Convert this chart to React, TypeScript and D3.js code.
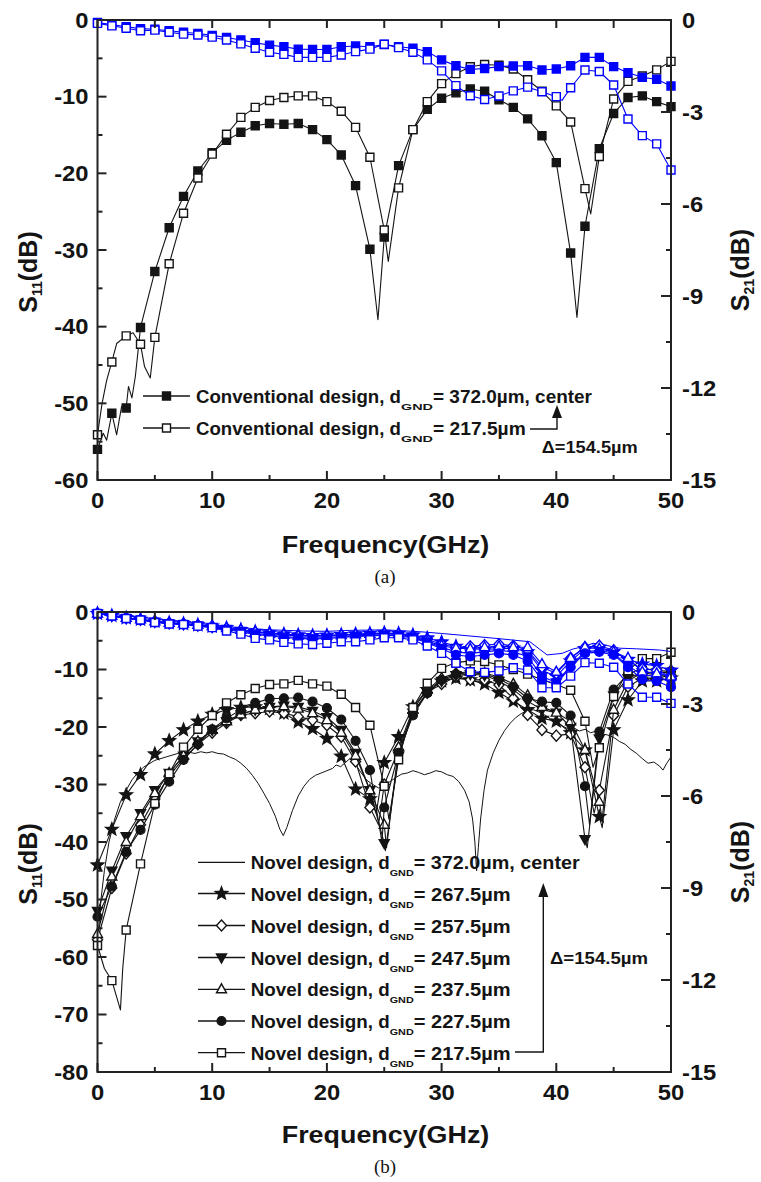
import React from 'react';
import * as d3 from 'd3';

type Pt = [number, number];

// ---------- shared frequency grid (marker positions, GHz) ----------
const FREQ = [0, 1.25, 2.5, 3.75, 5, 6.25, 7.5, 8.75, 10, 11.25, 12.5, 13.75, 15, 16.25, 17.5, 18.75, 20, 21.25, 22.5, 23.75, 25, 26.25, 27.5, 28.75, 30, 31.25, 32.5, 33.75, 35, 36.25, 37.5, 38.75, 40, 41.25, 42.5, 43.75, 45, 46.25, 47.5, 48.75, 50];

// ---------- panel (a): conventional design ----------
const A_S11_372 = [-56.0, -51.3, -50.6, -40.1, -32.8, -27.1, -23.0, -19.7, -17.3, -15.7, -14.65, -13.8, -13.5, -13.6, -13.5, -14.3, -15.6, -17.6, -21.6, -29.9, -28.3, -19.0, -14.3, -11.65, -10.2, -9.5, -9.0, -9.3, -10.4, -11.4, -12.9, -15.1, -18.6, -30.4, -26.9, -16.8, -12.2, -10.1, -9.9, -10.65, -11.3];
const A_S11_372_X: Pt[] = [[0.5, -53.9], [0.8, -54.8], [1.67, -54.1], [2.1, -50.4], [2.7, -47.8], [3.0, -49.3], [3.3, -46.5], [24.45, -39.1], [41.8, -38.8]];
const A_S11_217 = [-54.1, -44.6, -41.2, -42.3, -41.4, -31.8, -25.2, -20.6, -17.5, -14.9, -12.7, -11.4, -10.5, -10.1, -9.9, -9.9, -10.65, -11.9, -14.0, -17.9, -27.4, -21.9, -14.3, -10.65, -8.3, -7.0, -6.1, -5.8, -5.9, -6.4, -7.8, -9.3, -11.2, -13.3, -22.0, -17.8, -10.3, -8.0, -7.3, -6.5, -5.4];
const A_S11_217_X: Pt[] = [[0.4, -50], [0.8, -47], [1.67, -42.2], [3.1, -40.8], [4.1, -45.2], [4.6, -46.7], [25.35, -31.5], [43.0, -25.3]];
const A_S21_372 = [-0.08, -0.15, -0.22, -0.28, -0.3, -0.35, -0.4, -0.44, -0.5, -0.57, -0.65, -0.74, -0.82, -0.87, -0.95, -0.96, -0.96, -0.87, -0.85, -0.87, -0.80, -0.87, -0.92, -1.03, -1.30, -1.49, -1.61, -1.58, -1.52, -1.50, -1.49, -1.63, -1.60, -1.49, -1.22, -1.22, -1.52, -1.72, -1.87, -1.93, -2.15];
const A_S21_217 = [-0.11, -0.19, -0.27, -0.35, -0.33, -0.40, -0.46, -0.49, -0.56, -0.65, -0.78, -0.92, -1.05, -1.12, -1.22, -1.22, -1.22, -1.14, -1.03, -0.95, -0.79, -0.90, -1.05, -1.30, -1.66, -2.14, -2.47, -2.59, -2.48, -2.31, -2.19, -2.34, -2.50, -2.21, -1.63, -1.68, -2.12, -3.23, -3.77, -4.04, -4.89];
const A_S21_217_X: Pt[] = [[40.5, -2.62]];
const A_LEGEND = ['372.0\u00b5m, center', '217.5\u00b5m'];

// ---------- panel (b): novel design ----------
const B_S11_CENTER: Pt[] = [[0, -58], [0.3, -50], [0.6, -45], [1, -40], [1.5, -36], [2, -33], [2.5, -31], [3, -29.2], [3.5, -28], [4, -27], [5, -25.8], [6, -25.2], [7, -24.6], [7.5, -24.9], [8, -24.4], [8.5, -24.6], [9, -24.3], [9.5, -24.5], [10, -24.3], [10.5, -24.6], [11, -24.7], [11.5, -25.2], [12, -25.6], [12.5, -26.3], [13, -27.2], [13.5, -28.4], [14, -29.8], [14.5, -31.5], [15, -33.3], [15.5, -35.5], [15.9, -37.8], [16.2, -38.9], [16.5, -37.5], [17, -34.5], [17.5, -32], [18, -30.3], [18.5, -29.1], [19, -28.4], [19.5, -28], [20, -27.6], [20.5, -27.2], [20.8, -26.6], [21.2, -26.9], [21.6, -26.2], [22, -25.5], [22.5, -26.5], [23, -28], [23.5, -29.3], [24, -30], [24.5, -30.6], [25, -30.2], [25.5, -29.5], [26, -28.8], [26.5, -28.2], [27, -28], [27.5, -27.6], [28, -27.9], [28.5, -28.3], [29, -28], [29.5, -27.6], [30, -27.8], [30.5, -28.3], [31, -28.6], [31.5, -29.5], [32, -31], [32.4, -33], [32.7, -36], [32.9, -40], [33.05, -45], [33.2, -41], [33.4, -36], [33.7, -31], [34, -27.5], [34.5, -24.5], [35, -22.3], [35.5, -20.6], [36, -19.3], [36.5, -18.3], [37, -17.6], [37.5, -17.2], [38, -17], [38.5, -17.4], [39, -17.9], [39.5, -18.6], [40, -19], [40.5, -19.8], [41, -20.3], [41.5, -20.1], [42, -20.7], [42.5, -20.4], [43, -21], [43.5, -20.7], [44, -21.2], [44.5, -21.4], [45, -21.8], [45.5, -22.5], [46, -23], [46.5, -23.9], [47, -24.6], [47.5, -25.5], [48, -26.3], [48.5, -26.1], [49, -26.8], [49.3, -27.5], [49.6, -26.4], [50, -25.2]];
const B_S21_CENTER: Pt[] = [[0, -0.02], [2, -0.1], [5, -0.22], [8, -0.33], [10, -0.42], [12, -0.5], [15, -0.58], [18, -0.62], [20, -0.63], [22, -0.6], [25, -0.58], [28, -0.64], [30, -0.7], [33, -0.8], [35, -0.87], [37.7, -0.97], [38.5, -1.2], [39.2, -1.4], [40.5, -1.35], [41.5, -1.2], [42.4, -1.13], [43.2, -1.02], [44.5, -1.1], [45.5, -1.18], [47, -1.2], [49, -1.24], [50, -1.29]];

const B_S11_267 = [-44, -37.8, -31.8, -28.3, -24.7, -22.4, -20.5, -19.0, -17.8, -17.0, -16.6, -16.5, -16.8, -17.6, -19.1, -20.3, -22.0, -25.1, -30.8, -32.5, -26.2, -21.7, -16.5, -13.5, -12, -11.5, -11.8, -12.5, -14, -15.5, -17, -18.5, -19, -21, -24, -35.6, -20.5, -15.3, -12, -12, -11.5];
const B_S11_267_X: Pt[] = [[24.3, -35], [44.0, -37.5]];
const B_S11_257 = [-57, -48, -42, -37, -32.5, -28.5, -25.5, -23, -21, -19.3, -17.9, -17.6, -17.3, -17.6, -18.2, -18.8, -19.7, -21.7, -26.0, -34.0, -30, -24, -17.5, -14, -12.5, -11.3, -11.8, -11.8, -12.7, -15.0, -17.9, -20.5, -21.5, -21.2, -27, -31, -18, -13, -11.5, -11.5, -11];
const B_S11_257_X: Pt[] = [[24.5, -37], [43.3, -35]];
const B_S11_247 = [-52, -45, -39, -35, -31, -28, -25, -22.5, -20.5, -19, -17.8, -17, -16.5, -16.3, -16.5, -17.2, -18.3, -20.5, -24.5, -31, -40.2, -25, -17.5, -14, -12, -11, -10.8, -11, -12, -13.5, -15.5, -17, -17.5, -20, -39.5, -22, -14.5, -11.5, -10.5, -10.5, -10.5];
const B_S11_247_X: Pt[] = [[25.1, -41.5], [42.7, -41]];
const B_S11_237 = [-56, -46, -40, -35.5, -31.5, -28, -25, -22.5, -20.5, -19, -17.8, -17, -16.6, -16.4, -16.8, -17.6, -18.8, -21, -25, -31, -37, -23.5, -17, -13.5, -11.5, -10.6, -10.4, -10.6, -11.3, -12.5, -14.5, -16.5, -17.5, -19, -24, -33, -17, -12, -10.5, -11, -11];
const B_S11_237_X: Pt[] = [[25.2, -41], [44.0, -36]];
const B_S11_227 = [-53, -47.7, -41.7, -37.9, -33.5, -29.5, -25.7, -23.0, -20.4, -18.5, -17.0, -15.8, -15.1, -15.0, -14.9, -15.6, -16.7, -18.7, -22.4, -27.5, -34, -24.5, -18, -14.1, -11.8, -10.8, -10.5, -10.8, -11.6, -13, -15, -15.6, -15.8, -18, -30.3, -20.8, -13.5, -10.8, -9.8, -10.2, -10.3];
const B_S11_227_X: Pt[] = [[24.8, -40], [42.9, -37]];
const B_S11_217 = [-58, -64.1, -55.3, -43.8, -33.3, -28.1, -23.5, -20.4, -18.0, -15.8, -14.4, -13.3, -12.6, -12.5, -11.9, -12.5, -12.9, -14.3, -16.6, -19.7, -30.3, -25.7, -16.6, -12.4, -9.8, -8.8, -8.5, -8.6, -9.2, -10.0, -10.8, -11.8, -12.6, -13.6, -19.0, -23.6, -14.7, -10.2, -8.1, -8.1, -7.0];
const B_S11_217_X: Pt[] = [[0.6, -62], [2.0, -69.2], [2.2, -62], [25.4, -36], [43.2, -27]];

const B_S21_267 = [-0.05, -0.12, -0.19, -0.24, -0.3, -0.35, -0.38, -0.42, -0.46, -0.52, -0.58, -0.64, -0.68, -0.72, -0.75, -0.77, -0.76, -0.74, -0.72, -0.7, -0.68, -0.7, -0.75, -0.85, -0.98, -1.12, -1.2, -1.22, -1.2, -1.18, -1.3, -1.9, -2.1, -1.6, -1.2, -1.15, -1.3, -1.55, -1.7, -1.75, -1.9];
const B_S21_257 = [-0.05, -0.12, -0.2, -0.25, -0.31, -0.36, -0.39, -0.43, -0.47, -0.53, -0.6, -0.66, -0.7, -0.74, -0.77, -0.79, -0.78, -0.76, -0.74, -0.72, -0.7, -0.72, -0.78, -0.9, -1.05, -1.15, -1.12, -1.08, -1.05, -1.1, -1.25, -1.8, -2.0, -1.5, -1.15, -1.1, -1.25, -1.6, -1.85, -1.9, -2.1];
const B_S21_247 = [-0.05, -0.13, -0.2, -0.25, -0.32, -0.37, -0.4, -0.44, -0.49, -0.55, -0.62, -0.7, -0.75, -0.8, -0.83, -0.85, -0.83, -0.8, -0.78, -0.76, -0.74, -0.76, -0.82, -0.98, -1.15, -1.3, -1.35, -1.3, -1.25, -1.3, -1.45, -2.1, -2.3, -1.75, -1.3, -1.25, -1.35, -1.75, -2.05, -2.1, -2.3];
const B_S21_237 = [-0.05, -0.12, -0.19, -0.24, -0.3, -0.35, -0.38, -0.42, -0.46, -0.52, -0.58, -0.65, -0.7, -0.74, -0.77, -0.78, -0.77, -0.75, -0.73, -0.71, -0.7, -0.72, -0.8, -0.95, -1.1, -1.18, -1.2, -1.15, -1.12, -1.15, -1.15, -1.7, -1.95, -1.5, -1.15, -1.2, -1.3, -1.5, -1.95, -2.0, -2.1];
const B_S21_227 = [-0.05, -0.13, -0.2, -0.26, -0.32, -0.37, -0.4, -0.45, -0.5, -0.57, -0.65, -0.73, -0.78, -0.83, -0.86, -0.88, -0.86, -0.83, -0.8, -0.78, -0.76, -0.78, -0.85, -1.0, -1.2, -1.4, -1.45, -1.4, -1.35, -1.4, -1.6, -2.2, -2.35, -1.8, -1.35, -1.3, -1.4, -1.8, -2.2, -2.25, -2.45];
const B_S21_217 = [-0.05, -0.13, -0.21, -0.26, -0.34, -0.39, -0.41, -0.46, -0.51, -0.62, -0.72, -0.86, -0.91, -0.99, -1.04, -1.06, -1.02, -0.97, -0.97, -0.91, -0.84, -0.84, -0.91, -1.11, -1.35, -1.67, -1.95, -1.97, -1.92, -1.82, -1.89, -2.47, -2.47, -2.09, -1.65, -1.67, -1.80, -2.35, -2.78, -2.78, -2.98];
const B_LEGEND = ['372.0\u00b5m, center', '267.5\u00b5m', '257.5\u00b5m', '247.5\u00b5m', '237.5\u00b5m', '227.5\u00b5m', '217.5\u00b5m'];

// ---------- ticks ----------
const X_MAJOR = [0, 10, 20, 30, 40, 50];
const X_MINOR = [5, 15, 25, 35, 45];
const A_Y_MAJOR = [0, -10, -20, -30, -40, -50, -60];
const B_Y_MAJOR = [0, -10, -20, -30, -40, -50, -60, -70, -80];
const R_MAJOR = [0, -3, -6, -9, -12, -15];
const R_MINOR = [-1.5, -4.5, -7.5, -10.5, -13.5];

const SANS = '"Liberation Sans", Arial, Helvetica, sans-serif';
const SERIF = '"Liberation Serif", "Times New Roman", serif';
const INK = '#141414';
const BLUE = '#0000ff';

function merge(vals: number[], extra: Pt[] = []): Pt[] {
  const pts: Pt[] = FREQ.map((f, i) => [f, vals[i]] as Pt);
  return pts.concat(extra).sort((a, b) => a[0] - b[0]);
}

function starPath(R: number, r: number): string {
  const p: string[] = [];
  for (let i = 0; i < 10; i++) {
    const a = -Math.PI / 2 + (i * Math.PI) / 5;
    const rad = i % 2 === 0 ? R : r;
    p.push(`${(rad * Math.cos(a)).toFixed(2)},${(rad * Math.sin(a)).toFixed(2)}`);
  }
  return 'M' + p.join('L') + 'Z';
}

const PATHS: Record<string, string> = {
  sqF: 'M-4,-4H4V4H-4Z',
  sqO: 'M-4,-4H4V4H-4Z',
  starF: starPath(6.5, 2.8),
  diaO: 'M0,-5.5L5,0L0,5.5L-5,0Z',
  utriO: 'M0,-5.5L5,3.5H-5Z',
  dtriF: 'M0,5.5L5,-3.5H-5Z',
};

function Mk({ t, x, y, c }: { t: string; x: number; y: number; c: string }) {
  const filled = t.endsWith('F');
  const fill = filled ? c : '#fff';
  if (t === 'circF') return <circle cx={x} cy={y} r={4.5} fill={fill} stroke={c} strokeWidth={1.2} />;
  return <path d={PATHS[t]} transform={`translate(${x},${y})`} fill={fill} stroke={c} strokeWidth={1.4} />;
}

function T(props: { x: number; y: number; size: number; children: React.ReactNode; anchor?: string; sx?: number; rot?: number; weight?: string; family?: string; len?: number }) {
  const { x, y, size, children, anchor = 'start', sx = 1, rot = 0, weight = 'bold', family = SANS, len } = props;
  return (
    <text
      transform={`translate(${x},${y}) rotate(${rot}) scale(${sx},1)`}
      fontSize={size}
      fontWeight={weight}
      fontFamily={family}
      textAnchor={anchor as any}
      fill={INK}
      textLength={len}
      lengthAdjust={len ? 'spacingAndGlyphs' : undefined}
    >
      {children}
    </text>
  );
}

type Geo = { top: number; bottom: number; left: number; right: number; yMin: number };

function Series({ pts, x, y, color, mk, width = 1.1 }: { pts: Pt[]; x: any; y: any; color: string; mk?: string; width?: number }) {
  const line = d3.line<Pt>().x((d) => x(d[0])).y((d) => y(d[1]));
  const marks = mk ? pts.filter((d) => FREQ.includes(d[0])) : [];
  return (
    <g>
      <path d={line(pts) || ''} fill="none" stroke={color} strokeWidth={width} strokeLinejoin="round" />
      {marks.map((d, i) => (
        <Mk key={i} t={mk as string} x={x(d[0])} y={y(d[1])} c={color} />
      ))}
    </g>
  );
}

function Frame({ g, yMajor, tag, titleY }: { g: Geo; yMajor: number[]; tag: string; titleY: number }) {
  const x = d3.scaleLinear([0, 50], [g.left, g.right]);
  const yL = d3.scaleLinear([g.yMin, 0], [g.bottom, g.top]);
  const yR = d3.scaleLinear([-15, 0], [g.bottom, g.top]);
  const yMinor = yMajor.slice(1).map((v) => v + 5);
  const mid = (g.top + g.bottom) / 2;
  return (
    <g>
      <rect x={g.left} y={g.top} width={g.right - g.left} height={g.bottom - g.top} fill="none" stroke="#222" strokeWidth={2} />
      {X_MAJOR.map((v) => (
        <g key={'xm' + v}>
          <line x1={x(v)} x2={x(v)} y1={g.bottom} y2={g.bottom - 9} stroke="#222" strokeWidth={2} />
          <line x1={x(v)} x2={x(v)} y1={g.top} y2={g.top + 8} stroke="#222" strokeWidth={2} />
          <T x={x(v)} y={g.bottom + 28} size={22} sx={1.08} anchor="middle">{String(v)}</T>
        </g>
      ))}
      {X_MINOR.map((v) => (
        <g key={'xn' + v}>
          <line x1={x(v)} x2={x(v)} y1={g.bottom} y2={g.bottom - 5} stroke="#222" strokeWidth={2} />
          <line x1={x(v)} x2={x(v)} y1={g.top} y2={g.top + 8} stroke="#222" strokeWidth={2} />
        </g>
      ))}
      {yMajor.map((v) => (
        <g key={'ym' + v}>
          <line x1={g.left} x2={g.left + 9} y1={yL(v)} y2={yL(v)} stroke="#222" strokeWidth={2} />
          <T x={g.left - 9} y={yL(v) + 7.5} size={22} sx={1.08} anchor="end">{String(v)}</T>
        </g>
      ))}
      {yMinor.map((v) => (
        <line key={'yn' + v} x1={g.left} x2={g.left + 5} y1={yL(v)} y2={yL(v)} stroke="#222" strokeWidth={2} />
      ))}
      {R_MAJOR.map((v) => (
        <g key={'rm' + v}>
          <line x1={g.right} x2={g.right - 10} y1={yR(v)} y2={yR(v)} stroke="#222" strokeWidth={2} />
          <T x={g.right + 11} y={yR(v) + 7.5} size={22} sx={1.08}>{String(v)}</T>
        </g>
      ))}
      {R_MINOR.map((v) => (
        <line key={'rn' + v} x1={g.right} x2={g.right - 5} y1={yR(v)} y2={yR(v)} stroke="#222" strokeWidth={2} />
      ))}
      <T x={385.5} y={titleY} size={24} sx={1.12} anchor="middle">Frequency(GHz)</T>
      <T x={385} y={titleY + 30} size={19} weight="normal" family={SERIF} anchor="middle">{tag}</T>
      <text transform={`translate(37,${mid + 22}) rotate(-90)`} fontSize={25} fontWeight="bold" fontFamily={SANS} fill={INK} textAnchor="middle">
        S<tspan fontSize={14} dy={5}>11</tspan><tspan dy={-5}>(dB)</tspan>
      </text>
      <text transform={`translate(749,${mid + 20}) rotate(-90)`} fontSize={25} fontWeight="bold" fontFamily={SANS} fill={INK} textAnchor="middle">
        S<tspan fontSize={14} dy={5}>21</tspan><tspan dy={-5}>(dB)</tspan>
      </text>
    </g>
  );
}

function LegendRow({ y, mk, x0, x1, tx, head, headLen, gndLen, tailLen, label }: { y: number; mk?: string; x0: number; x1: number; tx: number; head: string; headLen: number; gndLen: number; tailLen: number; label: string }) {
  const gx = tx + headLen;
  return (
    <g>
      <line x1={x0} x2={x1} y1={y} y2={y} stroke={INK} strokeWidth={1.3} />
      {mk && <Mk t={mk} x={(x0 + x1) / 2} y={y} c={INK} />}
      <T x={tx} y={y + 7} size={18} len={headLen}>{head}</T>
      <T x={gx} y={y + 14} size={8.5} len={gndLen}>GND</T>
      <T x={gx + gndLen} y={y + 7} size={18} len={tailLen}>{'= ' + label}</T>
    </g>
  );
}

function PanelA() {
  const g: Geo = { top: 20, bottom: 480, left: 97.5, right: 671, yMin: -60 };
  const x = d3.scaleLinear([0, 50], [g.left, g.right]);
  const yL = d3.scaleLinear([g.yMin, 0], [g.bottom, g.top]);
  const yR = d3.scaleLinear([-15, 0], [g.bottom, g.top]);
  return (
    <g>
      <Series pts={merge(A_S11_372, A_S11_372_X)} x={x} y={yL} color={INK} mk="sqF" />
      <Series pts={merge(A_S11_217, A_S11_217_X)} x={x} y={yL} color={INK} mk="sqO" />
      <Series pts={merge(A_S21_372)} x={x} y={yR} color={BLUE} mk="sqF" />
      <Series pts={merge(A_S21_217, A_S21_217_X)} x={x} y={yR} color={BLUE} mk="sqO" />
      <Frame g={g} yMajor={A_Y_MAJOR} tag="(a)" titleY={553} />
      <LegendRow y={396} mk="sqF" x0={143} x1={190} tx={196} head="Conventional design, d" headLen={205} gndLen={32} tailLen={159} label={A_LEGEND[0]} />
      <LegendRow y={428} mk="sqO" x0={143} x1={190} tx={196} head="Conventional design, d" headLen={205} gndLen={32} tailLen={92.7} label={A_LEGEND[1]} />
      <polyline points="530,429 557,429 557,417" fill="none" stroke={INK} strokeWidth={1.4} />
      <path d="M552,418L562,418L557,405Z" fill={INK} />
      <T x={541.7} y={453} size={16} len={96}>{'\u0394=154.5\u00b5m'}</T>
    </g>
  );
}

function PanelB() {
  const g: Geo = { top: 612, bottom: 1072, left: 97.5, right: 671, yMin: -80 };
  const x = d3.scaleLinear([0, 50], [g.left, g.right]);
  const yL = d3.scaleLinear([g.yMin, 0], [g.bottom, g.top]);
  const yR = d3.scaleLinear([-15, 0], [g.bottom, g.top]);
  const s11 = [
    { v: B_S11_267, x: B_S11_267_X, mk: 'starF' },
    { v: B_S11_257, x: B_S11_257_X, mk: 'diaO' },
    { v: B_S11_247, x: B_S11_247_X, mk: 'dtriF' },
    { v: B_S11_237, x: B_S11_237_X, mk: 'utriO' },
    { v: B_S11_227, x: B_S11_227_X, mk: 'circF' },
    { v: B_S11_217, x: B_S11_217_X, mk: 'sqO' },
  ];
  const s21 = [
    { v: B_S21_267, mk: 'starF' },
    { v: B_S21_257, mk: 'diaO' },
    { v: B_S21_247, mk: 'dtriF' },
    { v: B_S21_237, mk: 'utriO' },
    { v: B_S21_227, mk: 'circF' },
    { v: B_S21_217, mk: 'sqO' },
  ];
  const rowY = [862.3, 893.5, 925.5, 957.5, 989.3, 1021, 1052.7];
  const mks = [undefined, 'starF', 'diaO', 'dtriF', 'utriO', 'circF', 'sqO'];
  return (
    <g>
      <Series pts={B_S11_CENTER} x={x} y={yL} color={INK} width={1.0} />
      {s11.map((s, i) => (
        <Series key={'b11' + i} pts={merge(s.v, s.x)} x={x} y={yL} color={INK} mk={s.mk} />
      ))}
      <Series pts={B_S21_CENTER} x={x} y={yR} color={BLUE} width={1.0} />
      {s21.map((s, i) => (
        <Series key={'b21' + i} pts={merge(s.v)} x={x} y={yR} color={BLUE} mk={s.mk} />
      ))}
      <Frame g={g} yMajor={B_Y_MAJOR} tag="(b)" titleY={1143} />
      {B_LEGEND.map((lab, i) => (
        <LegendRow key={'lg' + i} y={rowY[i]} mk={mks[i]} x0={198} x1={245} tx={250.7} head="Novel design, d" headLen={139} gndLen={24} tailLen={i === 0 ? 166 : 97} label={lab} />
      ))}
      <polyline points="515,1052 543.3,1052 543.3,896" fill="none" stroke={INK} strokeWidth={1.4} />
      <path d="M538.3,897L548.3,897L543.3,883Z" fill={INK} />
      <T x={550} y={964} size={16} len={98}>{'\u0394=154.5\u00b5m'}</T>
    </g>
  );
}

export default function App() {
  return (
    <svg width={761} height={1182} viewBox="0 0 761 1182" style={{ position: 'absolute', left: 0, top: 0, background: '#fff' }}>
      <rect x={0} y={0} width={761} height={1182} fill="#fff" />
      <PanelA />
      <PanelB />
    </svg>
  );
}
